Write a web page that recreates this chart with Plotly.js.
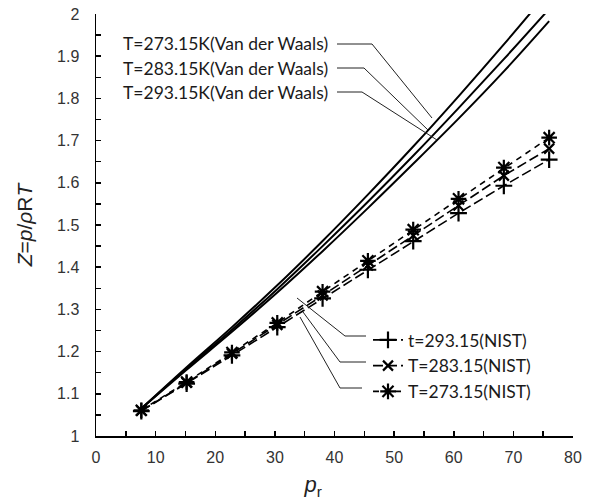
<!DOCTYPE html>
<html>
<head>
<meta charset="utf-8">
<script src="https://cdn.plot.ly/plotly-3.0.1.min.js"></script>
<style>html,body{margin:0;padding:0;background:#fff;}#chart{width:593px;height:502px;}</style>
</head>
<body>
<div id="chart"></div>
<script>
// Reduced pressure
var pr = [7.6, 15.2, 22.8, 30.4, 38.0, 45.6, 53.2, 60.8, 68.4, 76.0];
// Van der Waals compressibility factor
var vdw273 = [1.065, 1.163, 1.258, 1.357, 1.462, 1.572, 1.686, 1.805, 1.928, 2.055];
var vdw283 = [1.065, 1.160, 1.252, 1.348, 1.450, 1.555, 1.664, 1.777, 1.893, 2.012];
var vdw293 = [1.065, 1.157, 1.247, 1.340, 1.438, 1.540, 1.645, 1.752, 1.864, 1.983];
// NIST compressibility factor
var nist293 = [1.059, 1.124, 1.191, 1.258, 1.326, 1.394, 1.462, 1.528, 1.593, 1.655];
var nist283 = [1.060, 1.126, 1.195, 1.263, 1.333, 1.404, 1.475, 1.546, 1.617, 1.681];
var nist273 = [1.061, 1.128, 1.198, 1.268, 1.342, 1.415, 1.489, 1.562, 1.636, 1.707];

var vdwLabels = ['T=273.15K(Van der Waals)', 'T=283.15K(Van der Waals)', 'T=293.15K(Van der Waals)'];
var nistLabels = ['t=293.15(NIST)', 'T=283.15(NIST)', 'T=273.15(NIST)'];

// plot area in pixels (for annotation placement helpers)
var L = 96, R = 573, T = 14, B = 436;
function dx(px){ return (px - L) / (R - L) * 80; }
function dy(py){ return 2 - (py - T) / (B - T); }

var textFont = {family: 'Lato, Carlito, Calibri, sans-serif', size: 17.5, color: '#1a1a1a'};
var axFont = 'Liberation Sans, Arial, sans-serif';

var traces = [];
[vdw273, vdw283, vdw293].forEach(function(v){
  traces.push({x: pr, y: v, type: 'scatter', mode: 'lines', showlegend: false,
    line: {color: '#000', width: 2, shape: 'spline'}, hoverinfo: 'skip'});
});
var nistSets = [
  {y: nist293, name: nistLabels[0], sym: 'cross-thin-open', size: 12, dash: '10px,4px'},
  {y: nist283, name: nistLabels[1], sym: 'x-thin-open', size: 10, dash: '10px,4px'},
  {y: nist273, name: nistLabels[2], sym: 'asterisk-open', size: 13, dash: '6px,5px'}
];
nistSets.forEach(function(s, i){
  traces.push({x: pr, y: s.y, type: 'scatter', mode: 'lines+markers', name: s.name,
    legendgroup: 'g' + i,
    line: {color: '#000', width: 1.6, dash: s.dash},
    marker: {symbol: s.sym, size: s.size, color: '#000', line: {color: '#000', width: 2.2}}});
});

var annotations = vdwLabels.map(function(t, i){
  return {x: dx(121), y: dy([43, 68, 92][i]), xref: 'x', yref: 'y', text: t, showarrow: false,
    xanchor: 'left', yanchor: 'middle', font: textFont};
});

var leader = function(pts){
  var p = 'M ' + pts.map(function(q){ return dx(q[0]) + ',' + dy(q[1]); }).join(' L ');
  return {type: 'path', path: p, xref: 'x', yref: 'y', line: {color: '#222', width: 1}};
};
var shapes = [
  leader([[337, 44], [372, 44], [432, 118]]),
  leader([[337, 68], [364, 68], [428, 130]]),
  leader([[337, 92], [362, 92], [437, 140]]),
  leader([[297, 298], [345, 336], [366, 336]]),
  leader([[303, 312], [340, 362], [366, 362]]),
  leader([[300, 317], [340, 388], [362, 388]])
];

var layout = {
  width: 593, height: 502,
  margin: {l: L, r: 593 - R, t: T, b: 502 - B},
  paper_bgcolor: '#fff', plot_bgcolor: '#fff',
  font: {family: axFont, size: 16, color: '#333'},
  showlegend: true,
  legend: {x: (368 - L) / (R - L), y: 1 - (322 - T) / (B - T), xanchor: 'left', yanchor: 'top',
    bgcolor: 'rgba(0,0,0,0)', font: textFont, traceorder: 'grouped', tracegroupgap: 0},
  xaxis: {range: [0, 80], dtick: 10, tick0: 0, showgrid: false, zeroline: false,
    showline: true, linecolor: '#000', linewidth: 1.5, ticks: 'inside', ticklen: 5, tickcolor: '#000', tickwidth: 1.5,
    minor: {dtick: 5, ticks: 'inside', ticklen: 5, tickcolor: '#000', tickwidth: 1.5, showgrid: false},
    tickfont: {family: axFont, size: 16, color: '#333'},
    ticklabelstandoff: 6,
    title: {text: '<i>p</i><sub>r</sub>' + '&nbsp;'.repeat(7), font: {family: axFont, size: 22, color: '#222'}, standoff: 12}},
  yaxis: {range: [1, 2], dtick: 0.1, tick0: 1, showgrid: false, zeroline: false,
    showline: true, linecolor: '#000', linewidth: 1.5, ticks: 'inside', ticklen: 5, tickcolor: '#000', tickwidth: 1.5,
    minor: {dtick: 0.05, ticks: 'inside', ticklen: 5, tickcolor: '#000', tickwidth: 1.5, showgrid: false},
    tickfont: {family: axFont, size: 16, color: '#333'},
    ticklabelstandoff: 12,
    title: {text: '<i>Z</i>=<i>p</i>/<i>ρ</i>R<i>T</i>', font: {family: axFont, size: 21, color: '#222'}, standoff: 18}},
  annotations: annotations,
  shapes: shapes
};

Plotly.newPlot('chart', traces, layout, {displayModeBar: false, staticPlot: true});
</script>
</body>
</html>
